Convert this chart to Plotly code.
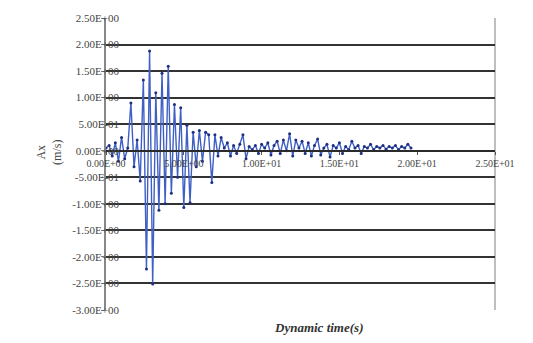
import plotly.graph_objects as go

# Time (s) and acceleration Ax (m/s)
time_s = [0.0, 0.2, 0.4, 0.6, 0.8, 1.0, 1.2, 1.4, 1.6, 1.8,
          2.0, 2.2, 2.4, 2.6, 2.8, 3.0, 3.2, 3.4, 3.6, 3.8,
          4.0, 4.2, 4.4, 4.6, 4.8, 5.0, 5.2, 5.4, 5.6, 5.8,
          6.0, 6.2, 6.4, 6.6, 6.8, 7.0, 7.2, 7.4, 7.6, 7.8,
          8.0, 8.2, 8.4, 8.6, 8.8, 9.0, 9.2, 9.4, 9.6, 9.8,
          10.0, 10.2, 10.4, 10.6, 10.8, 11.0, 11.2, 11.4, 11.6, 11.8,
          12.0, 12.2, 12.4, 12.6, 12.8, 13.0, 13.2, 13.4, 13.6, 13.8,
          14.0, 14.2, 14.4, 14.6, 14.8, 15.0, 15.2, 15.4, 15.6, 15.8,
          16.0, 16.2, 16.4, 16.6, 16.8, 17.0, 17.2, 17.4, 17.6, 17.8,
          18.0, 18.2, 18.4, 18.6, 18.8, 19.0, 19.2, 19.4, 19.6]
ax_values = [0.05, 0.10, -0.10, 0.15, -0.20, 0.25, -0.15, 0.05, 0.90, -0.30,
             0.20, -0.57, 1.33, -2.23, 1.88, -2.51, 1.09, -1.12, 1.46, -1.00,
             1.59, -0.80, 0.87, -0.50, 0.81, -1.07, 0.48, -0.98, 0.35, -0.30,
             0.38, -0.20, 0.35, 0.30, -0.60, 0.30, -0.10, 0.25, 0.05, 0.15,
             -0.10, 0.10, -0.05, 0.12, 0.30, -0.15, 0.08, 0.02, 0.10, -0.05,
             0.12, 0.05, 0.15, -0.08, 0.10, 0.18, -0.05, 0.20, 0.00, 0.32,
             -0.10, 0.20, 0.05, 0.18, -0.05, 0.15, -0.10, 0.10, 0.22, -0.08,
             0.05, 0.12, -0.12, 0.10, 0.05, 0.15, -0.05, 0.08, 0.02, 0.18,
             0.05, 0.10, -0.05, 0.08, 0.05, 0.12, 0.02, 0.08, 0.05, 0.10,
             0.03, 0.08, 0.05, 0.10, 0.02, 0.08, 0.05, 0.12, 0.05]

x_tickvals = [0, 5, 10, 15, 20, 25]
x_ticktext = ["0.00E+00", "5.00E+00", "1.00E+01", "1.50E+01", "2.00E+01", "2.50E+01"]
y_tickvals = [2.5, 2.0, 1.5, 1.0, 0.5, 0.0, -0.5, -1.0, -1.5, -2.0, -2.5, -3.0]
y_ticktext = ["2.50E+00", "2.00E+00", "1.50E+00", "1.00E+00", "5.00E-01", "0.00E+00",
              "-5.00E-01", "-1.00E+00", "-1.50E+00", "-2.00E+00", "-2.50E+00", "-3.00E+00"]

font_family = "Liberation Serif, Times New Roman, serif"

fig = go.Figure()
fig.add_trace(go.Scatter(
    x=time_s, y=ax_values, mode="lines+markers",
    line=dict(color="#3f5fc4", width=1.4),
    marker=dict(color="#1f2f80", size=3),
    showlegend=False, cliponaxis=False,
))

fig.update_layout(
    width=533, height=343,
    margin=dict(l=106, r=38, t=13, b=33),
    paper_bgcolor="white", plot_bgcolor="white",
    font=dict(family=font_family, size=11, color="#444444"),
    xaxis=dict(
        range=[0, 25], tickvals=x_tickvals, ticktext=x_ticktext,
        showgrid=False, zeroline=False,
        anchor="free", position=3.0 / 5.5,
        showline=True, linecolor="#2a2a2a", linewidth=1.8,
        ticks="outside", ticklen=3, tickcolor="#555555",
        tickfont=dict(size=10, color="#444444"),
    ),
    yaxis=dict(
        range=[-3.0, 2.5], tickvals=y_tickvals, ticktext=y_ticktext,
        showgrid=True, gridcolor="#333333", gridwidth=2,
        zeroline=False,
        showline=True, linecolor="#888888", linewidth=1.5,
        ticks="outside", ticklen=3, tickcolor="#777777",
        ticklabelstandoff=-20,
        tickfont=dict(size=11, color="#444444"),
    ),
    shapes=[
        dict(type="line", xref="paper", yref="paper", x0=1, x1=1, y0=0, y1=1,
             line=dict(color="#aaaaaa", width=1.5), layer="below"),
    ],
    annotations=[
        dict(text="Ax<br>(m/s)", xref="paper", yref="paper", x=-0.145, y=0.54,
             showarrow=False, textangle=-90, xanchor="center", yanchor="middle",
             font=dict(family=font_family, size=12, color="#444444")),
        dict(text="<i><b>Dynamic time(s)</b></i>", xref="paper", yref="paper",
             x=0.545, y=-0.06, showarrow=False, xanchor="center", yanchor="middle",
             font=dict(family=font_family, size=13, color="#333333")),
    ],
)

fig.write_html("out.html")
